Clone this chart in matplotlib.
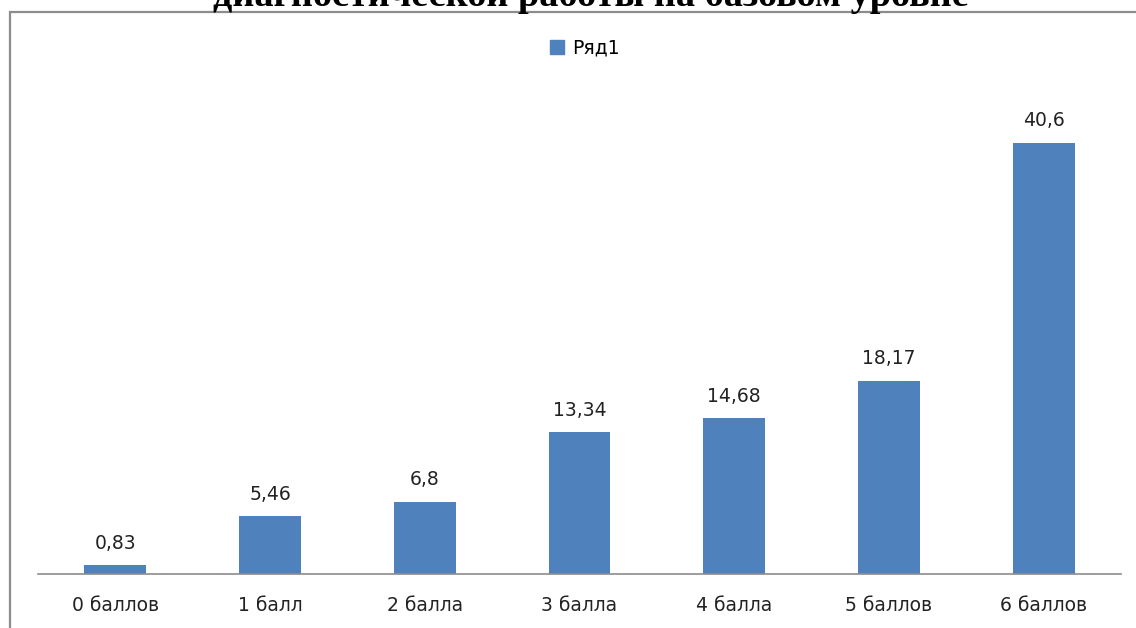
import matplotlib
matplotlib.use('Agg')
import matplotlib.pyplot as plt
from matplotlib.patches import Rectangle, Patch

categories = ['0 баллов', '1 балл', '2 балла', '3 балла', '4 балла', '5 баллов', '6 баллов']
values = [0.83, 5.46, 6.8, 13.34, 14.68, 18.17, 40.6]
value_labels = ['0,83', '5,46', '6,8', '13,34', '14,68', '18,17', '40,6']
series_name = 'Ряд1'
title = 'диагностической работы на базовом уровне'

bar_color = '#4F81BD'
font = ['DejaVu Sans']

fig = plt.figure(figsize=(11.36, 6.28), dpi=100)

# chart frame, runs off the right and bottom edges
fig.patches.append(Rectangle((10 / 1136, -0.1), 1.2, 1 - 12 / 628 + 0.1,
                             transform=fig.transFigure, fill=False,
                             edgecolor='#8c8c8c', linewidth=1.6))

# title, mostly clipped at the top
fig.text(0.52, 1 + 4 / 628, title, ha='center', va='center',
         family='Liberation Serif', fontweight='bold', fontsize=27.5)

ax = fig.add_axes([38 / 1136, 54 / 628, 1083 / 1136, 478 / 628])
x = range(len(categories))
bars = ax.bar(x, values, width=0.4, color=bar_color)
ax.set_xlim(-0.5, len(categories) - 0.5)
ax.set_ylim(0, 45)

for b, lab in zip(bars, value_labels):
    ax.annotate(lab, (b.get_x() + b.get_width() / 2, b.get_height()),
                xytext=(0, 9), textcoords='offset points', ha='center',
                va='bottom', family=font, fontsize=13.5, color='#222222')

ax.set_xticks(list(x))
ax.set_xticklabels(categories, family=font, fontsize=13.5, color='#222222')
ax.tick_params(axis='x', length=0, pad=16)
ax.set_yticks([])
for s in ['left', 'right', 'top']:
    ax.spines[s].set_visible(False)
ax.spines['bottom'].set_color('#8c8c8c')
ax.spines['bottom'].set_linewidth(1.2)

leg = fig.legend(handles=[Patch(color=bar_color, label=series_name)],
                 loc='center', bbox_to_anchor=(585 / 1136, 1 - 48 / 628),
                 frameon=False, handlelength=0.75, handleheight=0.75,
                 handletextpad=0.4, prop={'family': font, 'size': 13.5})

fig.savefig('out.png', dpi=100)
